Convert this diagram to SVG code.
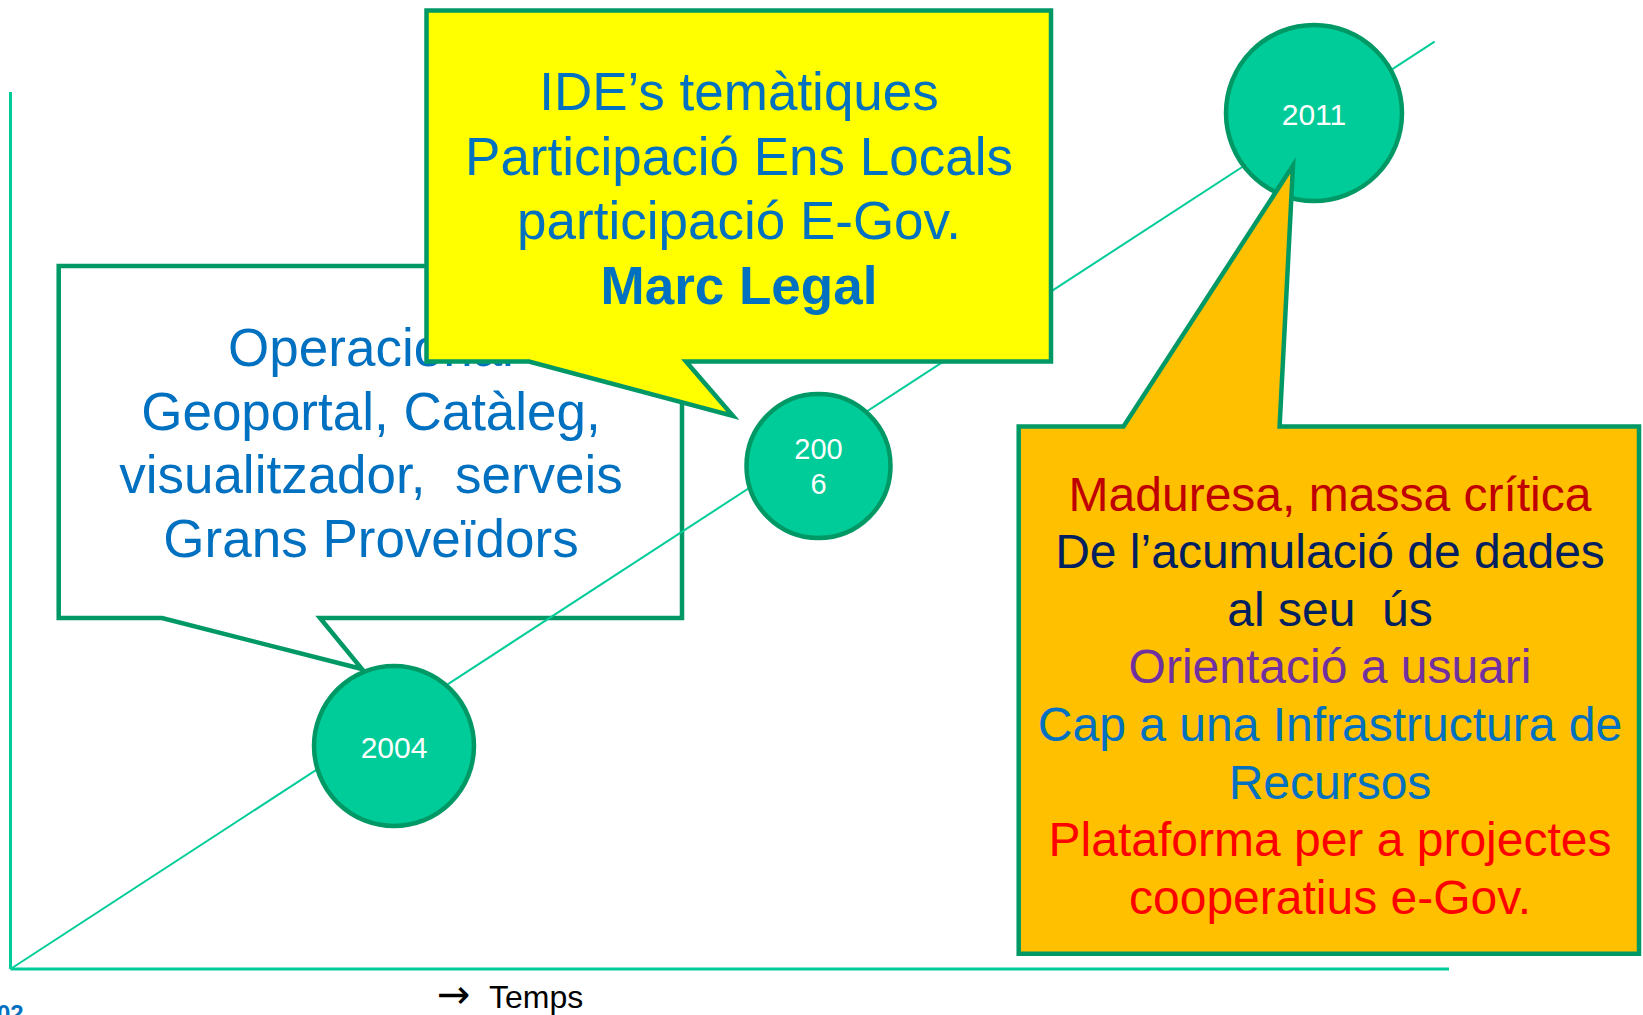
<svg xmlns="http://www.w3.org/2000/svg" width="1643" height="1015" viewBox="0 0 1643 1015">
<style>
text{font-family:"Liberation Sans",Arial,sans-serif;text-anchor:middle}
.callout{stroke:#009966;stroke-width:4.5;stroke-linejoin:miter}
.axis{stroke:#00CC99;fill:none}
.year{fill:#00CC99;stroke:#009966;stroke-width:4.5}
.yl{fill:#FFFFFF;font-size:30px}
.big{font-size:53px;fill:#0070C0}
.or{font-size:48px;white-space:pre}
</style>
<rect width="1643" height="1015" fill="#FFFFFF"/>
<g id="callout-2004">
<path class="callout" fill="#FFFFFF" d="M58.7,266 H682 V618 H320 L362,669 L162,618 H58.7 Z"/>
<text class="big" x="371" y="366">Operacional</text>
<text class="big" x="371" y="430">Geoportal, Catàleg,</text>
<text class="big" x="371" y="493" style="white-space:pre">visualitzador,  serveis</text>
<text class="big" x="371" y="557">Grans Proveïdors</text>
</g>
<g id="connectors">
<line class="axis" x1="10.5" y1="92" x2="10.5" y2="969" stroke-width="3"/>
<line class="axis" x1="10.5" y1="969" x2="1449" y2="969" stroke-width="3"/>
<line class="axis" x1="10.5" y1="969" x2="1434.6" y2="41.7" stroke-width="2"/>
</g>
<g id="node-2004">
<circle class="year" cx="394" cy="746" r="80"/>
<text class="yl" x="394" y="758">2004</text>
</g>
<g id="node-2006">
<circle class="year" cx="818.5" cy="466" r="72"/>
<text class="yl" x="818.5" y="459" style="font-size:29px">200</text>
<text class="yl" x="818.5" y="494" style="font-size:29px">6</text>
</g>
<g id="node-2011">
<circle class="year" cx="1314" cy="113" r="88"/>
<text class="yl" x="1314" y="125">2011</text>
</g>
<g id="callout-2006">
<path class="callout" fill="#FFFF00" d="M426.5,10.5 H1051 V361.5 H686 L733,416 L529,361.5 H426.5 Z"/>
<text class="big" x="739" y="110">IDE’s temàtiques</text>
<text class="big" x="739" y="175">Participació Ens Locals</text>
<text class="big" x="739" y="239">participació E-Gov.</text>
<text class="big" x="739" y="304" font-weight="bold">Marc Legal</text>
</g>
<g id="callout-2011">
<path class="callout" fill="#FFC000" d="M1018.7,426.5 H1123.5 L1293,165.6 L1279.6,426.5 H1639 V953.7 H1018.7 Z"/>
<text class="or" x="1330" y="511" fill="#C00000">Maduresa, massa crítica</text>
<text class="or" x="1330" y="568" fill="#002060">De l’acumulació de dades</text>
<text class="or" x="1330" y="626" fill="#002060">al seu  ús</text>
<text class="or" x="1330" y="683" fill="#7030A0">Orientació a usuari</text>
<text class="or" x="1330" y="741" fill="#0070C0">Cap a una Infrastructura de</text>
<text class="or" x="1330" y="799" fill="#0070C0">Recursos</text>
<text class="or" x="1330" y="856" fill="#FF0000">Plataforma per a projectes</text>
<text class="or" x="1330" y="914" fill="#FF0000">cooperatius e-Gov.</text>
</g>
<g id="footer">
<text x="437" y="1008" style="text-anchor:start;font-size:32px" fill="#000000"><tspan style="font-family:'DejaVu Sans',sans-serif;font-size:40px">→</tspan><tspan x="489">Temps</tspan></text>
<text x="-3" y="1022" style="text-anchor:start;font-size:24px;font-weight:bold" fill="#0070C0">02</text>
</g>
</svg>
